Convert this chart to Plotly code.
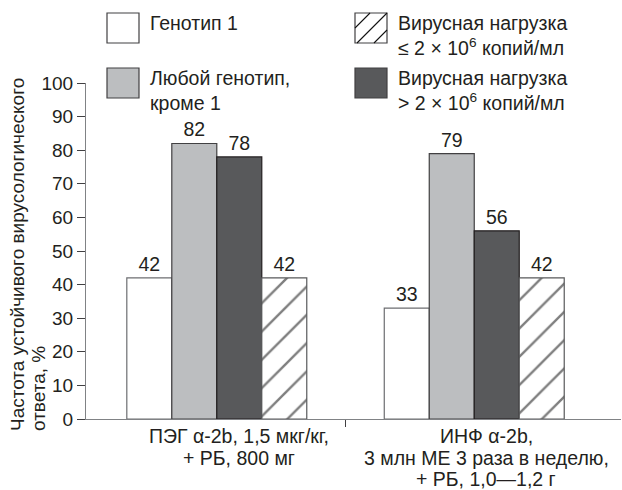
import plotly.graph_objects as go

# Treatment regimens (x categories), one entry per printed line
regimens = [
    ["ПЭГ α-2b, 1,5 мкг/кг,", "+ РБ, 800 мг"],
    ["ИНФ α-2b,", "3 млн МЕ 3 раза в неделю,", "+ РБ, 1,0—1,2 г"],
]
regimen_pos = [0, 1]

# Sustained virological response, % (bar order within each group)
genotype1 = [42, 33]
other_genotypes = [82, 79]
high_load = [78, 56]
low_load = [42, 42]

series_names = [
    "Генотип 1",
    "Любой генотип,<br>кроме 1",
    "Вирусная нагрузка<br>> 2 × 10<sup>6</sup> копий/мл",
    "Вирусная нагрузка<br>≤ 2 × 10<sup>6</sup> копий/мл",
]
series_values = [genotype1, other_genotypes, high_load, low_load]

y_ticks = list(range(0, 101, 10))
y_title = ["Частота устойчивого вирусологического", "ответа, %"]

FONT = "Liberation Sans, Arial, Helvetica, sans-serif"
TXT = "#231f20"
FS = 19.5

styles = [
    dict(fill="#ffffff", edge="#6d6e71", pattern=None),
    dict(fill="#bcbec0", edge="#414042", pattern=None),
    dict(fill="#58595b", edge="#231f20", pattern=None),
    dict(fill="#ffffff", edge="#58595b", pattern="/"),
]

fig = go.Figure()
for name, vals, st in zip(series_names, series_values, styles):
    marker = dict(color=st["fill"], line=dict(color=st["edge"], width=1.2))
    if st["pattern"]:
        marker["pattern"] = dict(shape=st["pattern"], fgcolor="#000000",
                                 bgcolor="#ffffff", size=20, solidity=0.12)
    fig.add_trace(go.Bar(
        x=regimen_pos, y=vals, name=name, marker=marker,
        text=[str(v) for v in vals], textposition="outside",
        textfont=dict(size=FS, color=TXT, family=FONT),
        cliponaxis=False, showlegend=False, hoverinfo="skip",
    ))

# ---- plot area geometry (pixels) for the hand-built legend ----
W, H = 622, 490
L, R, T, B = 86, 1, 83, 71
pw, ph = W - L - R, H - T - B


def px(x):
    return (x - L) / pw


def py(y):
    return (H - B - y) / ph


shapes = []
annotations = []

# legend: swatch box (left, top) in pixels, per series
legend_slots = [(107, 13), (107, 68), (355, 68), (355, 13)]
BW, BH = 32, 30
for name, st, (bx, by) in zip(series_names, styles, legend_slots):
    shapes.append(dict(type="rect", xref="paper", yref="paper",
                       x0=px(bx), x1=px(bx + BW), y0=py(by + BH), y1=py(by),
                       fillcolor=st["fill"], line=dict(color="#414042", width=1.2)))
    if st["pattern"]:
        # diagonal hatch lines clipped to the swatch
        for c in (bx + by + 15, bx + by + 32, bx + by + 49):
            pts = []
            for xx in (bx, bx + BW):
                yy = c - xx
                if by <= yy <= by + BH:
                    pts.append((xx, yy))
            for yy in (by, by + BH):
                xx = c - yy
                if bx <= xx <= bx + BW:
                    pts.append((xx, yy))
            pts = sorted(set(pts))
            if len(pts) >= 2:
                (x0, y0), (x1, y1) = pts[0], pts[-1]
                shapes.append(dict(type="line", xref="paper", yref="paper",
                                   x0=px(x0), y0=py(y0), x1=px(x1), y1=py(y1),
                                   line=dict(color="#111111", width=1.1)))
    annotations.append(dict(text=name, xref="paper", yref="paper",
                            x=px(bx + BW + 9), y=py(by - 3),
                            xanchor="left", yanchor="top", align="left",
                            showarrow=False,
                            font=dict(size=FS, color=TXT, family=FONT)))

# y-axis title: two rotated lines, both starting at the bottom
for i, line in enumerate(y_title):
    annotations.append(dict(text=line, xref="paper", yref="paper",
                            x=px(17.5 + 21 * i), y=py(433),
                            xanchor="center", yanchor="bottom",
                            textangle=-90, showarrow=False,
                            font=dict(size=19, color=TXT, family=FONT)))

# category labels under the x axis, tight line spacing
label_shift = [0.087, 0.046]
for pos, shift, lines in zip(regimen_pos, label_shift, regimens):
    for j, line in enumerate(lines):
        annotations.append(dict(text=line, xref="x", yref="paper",
                                x=pos + shift, y=py(436 + 21.5 * j),
                                xanchor="center", yanchor="middle",
                                showarrow=False,
                                font=dict(size=FS, color=TXT, family=FONT)))

fig.update_layout(
    width=W, height=H,
    margin=dict(l=L, r=R, t=T, b=B, pad=0),
    paper_bgcolor="#ffffff", plot_bgcolor="#ffffff",
    barmode="group", bargap=0.301, bargroupgap=0,
    font=dict(family=FONT, size=FS, color=TXT),
    shapes=shapes, annotations=annotations,
    xaxis=dict(
        range=[-0.508, 1.570], tickmode="array",
        tickvals=[0.5], ticktext=[""], ticks="outside",
        ticklen=7, tickcolor="#414042", tickwidth=1,
        showline=True, linecolor="#808285", linewidth=1.2,
        showgrid=False, zeroline=False,
    ),
    yaxis=dict(
        range=[0, 100], tickmode="array", tickvals=y_ticks,
        ticks="outside", ticklen=8, tickcolor="#414042", tickwidth=1,
        showline=True, linecolor="#808285", linewidth=1.2,
        showgrid=False, zeroline=False,
        tickfont=dict(size=19, color=TXT, family=FONT),
    ),
)

fig.write_html("out.html")
